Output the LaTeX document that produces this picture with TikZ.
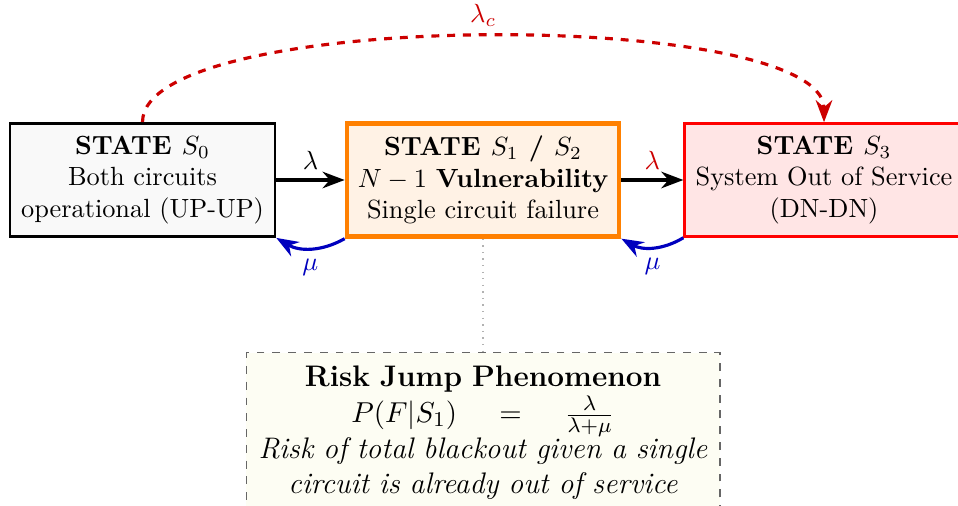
\documentclass[tikz,border=0pt]{standalone}
\usetikzlibrary{arrows.meta}
\definecolor{arcred}{RGB}{204,0,0}
\definecolor{backblue}{RGB}{0,0,190}
\definecolor{riskfill}{RGB}{253,253,243}
\begin{document}
\begin{tikzpicture}[x=0.38pt,y=-0.38pt,
  statebox/.style={rectangle, align=center, minimum height=43pt, inner xsep=4.2pt, inner ysep=3.5pt},
  flow/.style={-{Stealth}, line width=1.2pt, black},
  backflow/.style={-{Stealth}, line width=1.2pt, backblue},
  crossflow/.style={-{Stealth}, line width=1.2pt, arcred, dashed},
  riskbox/.style={rectangle, draw=black!60, dashed, line width=0.5pt, fill=riskfill,
    align=center, text width=176pt, inner xsep=2pt, inner ysep=5pt,
    font=\fontsize{11.3}{13.6}\selectfont}]
\useasboundingbox (0,0) rectangle (958,506);
\clip (0,0) rectangle (958,506);

% Markov states
\node[statebox, draw=black, line width=1pt, fill=gray!5] (s0) at (142.5,180)
  {\textbf{STATE $S_0$}\\Both circuits\\operational (UP-UP)};
\node[statebox, draw=orange, line width=1.6pt, fill=orange!10] (s1) at (483,180)
  {\textbf{STATE $S_1$ / $S_2$}\\$N-1$ \textbf{Vulnerability}\\Single circuit failure};
\node[statebox, draw=red, line width=0.9pt, fill=red!10] (s3) at (824,180)
  {\textbf{STATE $S_3$}\\System Out of Service\\(DN-DN)};

% failure transitions
\draw[flow] (s0) -- node[above] {$\lambda$} (s1);
\draw[flow] (s1) -- node[above, text=arcred] {$\lambda$} (s3);

% repair transitions
\draw[backflow] (s1.south west) to[bend left=30] node[below] {$\mu$} (s0.south east);
\draw[backflow] (s3.south west) to[bend left=30] node[below] {$\mu$} (s1.south east);

% common-cause failure
\draw[crossflow] (s0.north) to[out=90, in=90, looseness=0.43]
  node[above, text=arcred] {$\lambda_c$} (s3.north);

% annotation
\node[riskbox, anchor=north] (risk) at (483,352)
  {\textbf{Risk Jump Phenomenon}\\
   $P(F|S_1)\hspace{8pt}=\hspace{8pt}\frac{\lambda}{\lambda+\mu}$\\
   \textit{Risk of total blackout given a single}\\
   \textit{circuit is already out of service}};
\draw[gray!60, dotted, line width=0.5pt] (s1.south) -- (risk.north);
\end{tikzpicture}
\end{document}
